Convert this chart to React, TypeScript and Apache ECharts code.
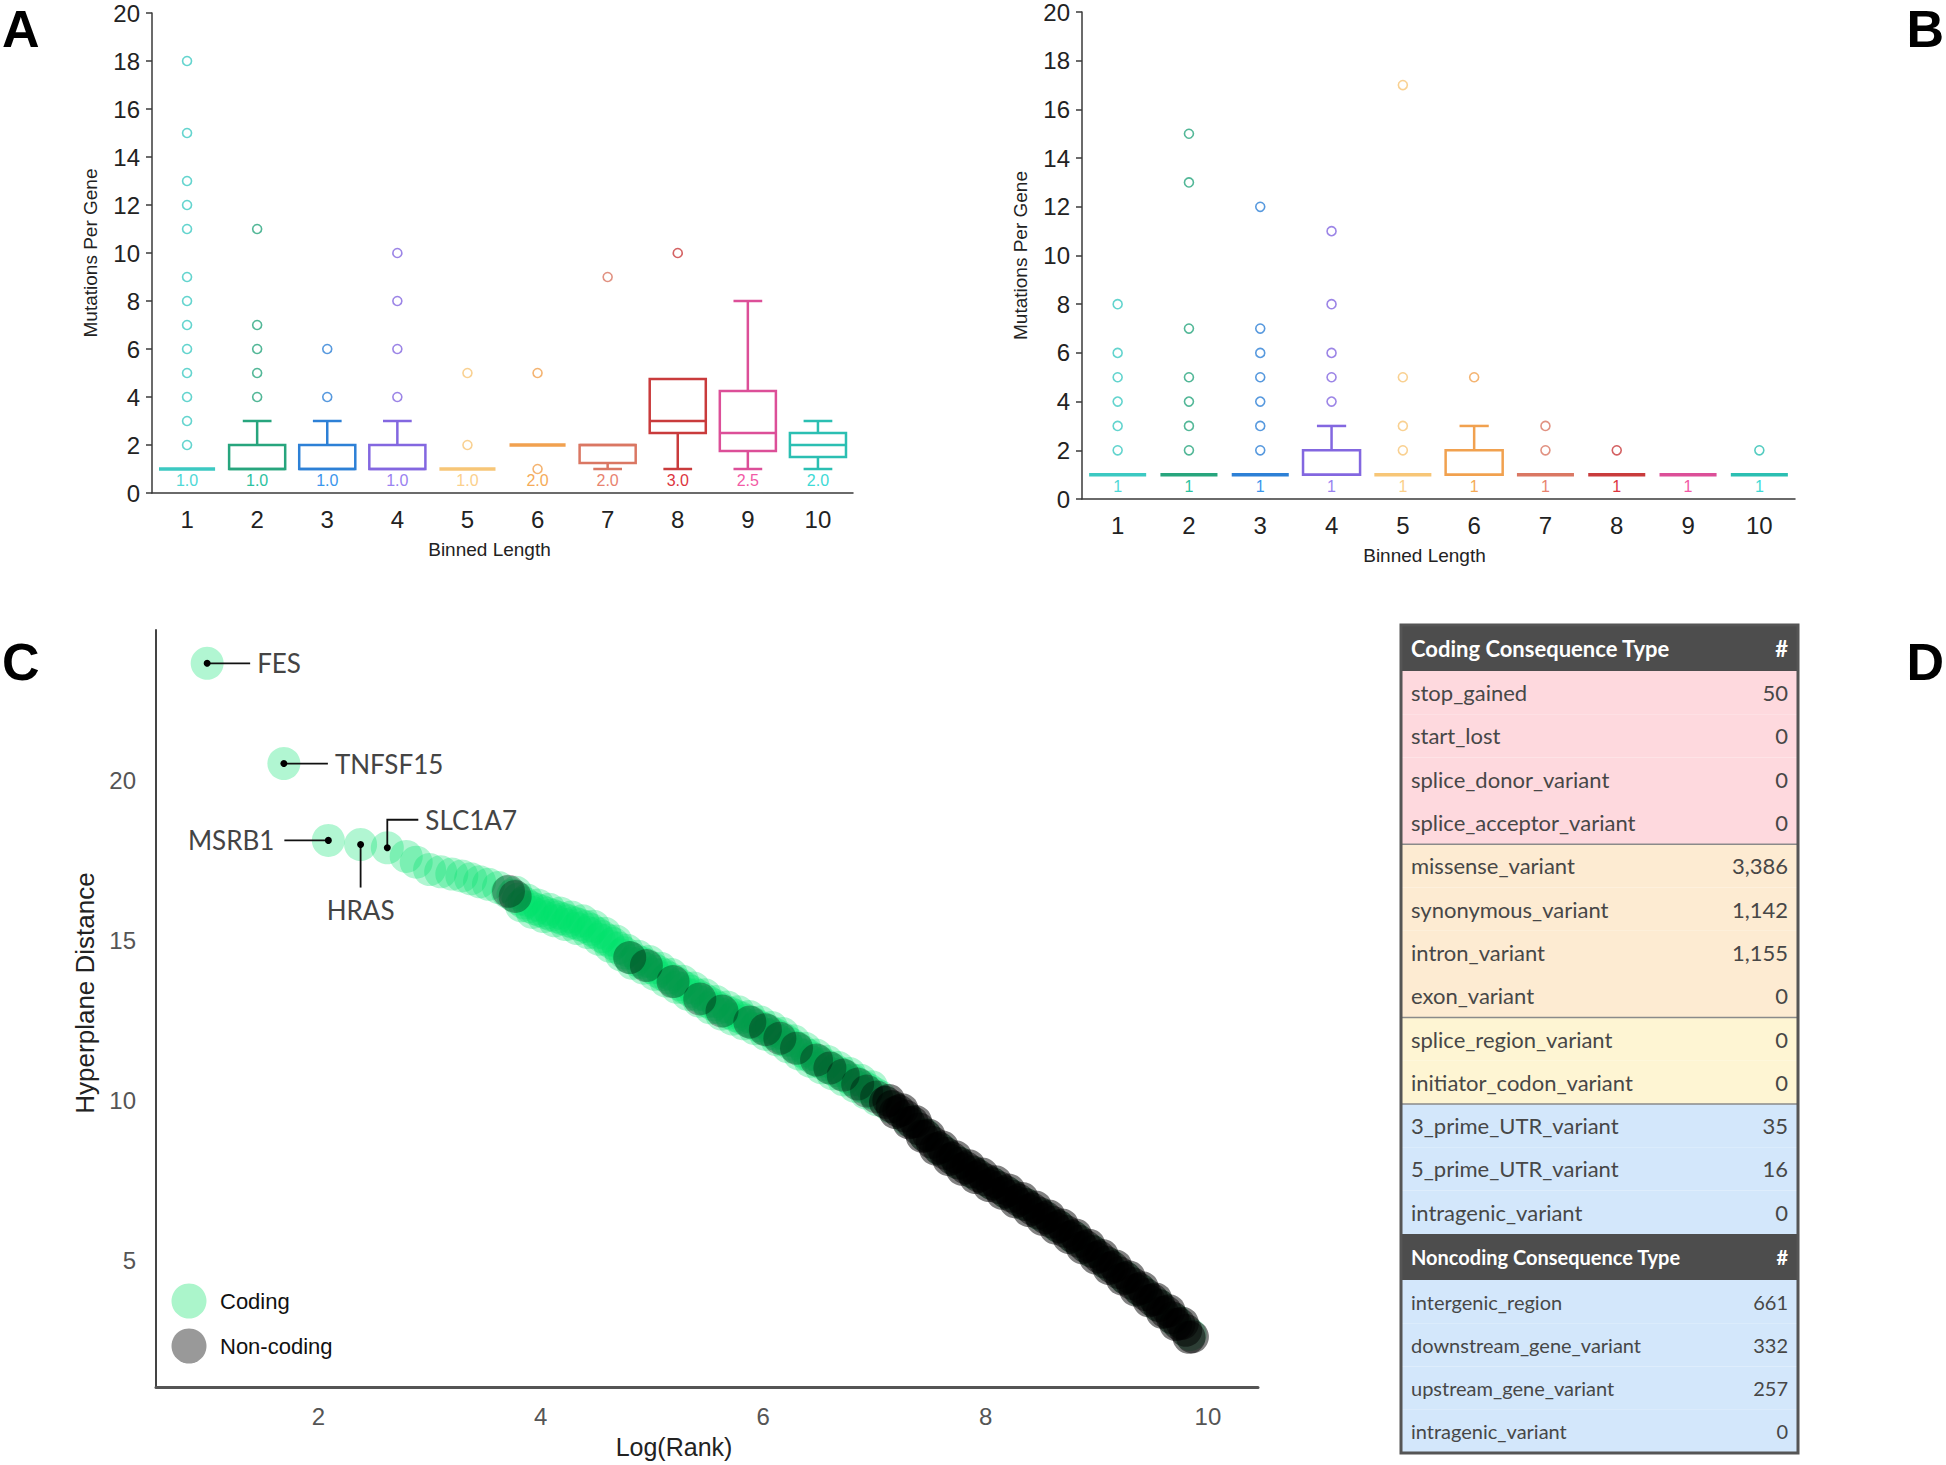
import React, { useEffect, useRef } from "react";
import * as echarts from "echarts";

// ---------- Panel A / B data ----------
const binCategories = ["1", "2", "3", "4", "5", "6", "7", "8", "9", "10"];
const boxColors = ["#3cc9c2", "#27a57d", "#2d80d6", "#8367e0", "#f7c677", "#f1a14f", "#da7763", "#c93b3c", "#dc4f98", "#2bbfb2"];
const medianLabelColors = ["#4fd8d6", "#2cc2a0", "#3b96ec", "#9a82f0", "#fbd08c", "#f5ab58", "#e8836f", "#dc3540", "#f25aa6", "#3edad6"];

const aMin = [1, 1, 1, 1, 1, 2, 1, 1, 1, 1];
const aQ1 = [1, 1, 1, 1, 1, 2, 1.25, 2.5, 1.75, 1.5];
const aMedian = [1, 1, 1, 1, 1, 2, 2, 3, 2.5, 2];
const aQ3 = [1, 2, 2, 2, 1, 2, 2, 4.75, 4.25, 2.5];
const aMax = [1, 3, 3, 3, 1, 2, 2, 4.75, 8, 3];
const aMedianLabels = ["1.0", "1.0", "1.0", "1.0", "1.0", "2.0", "2.0", "3.0", "2.5", "2.0"];
const aOutliers = [
  [2, 3, 4, 5, 6, 7, 8, 9, 11, 12, 13, 15, 18],
  [4, 5, 6, 7, 11],
  [4, 6],
  [4, 6, 8, 10],
  [2, 5],
  [1, 5],
  [9],
  [10],
  [],
  [],
];

const bMin = [1, 1, 1, 1, 1, 1, 1, 1, 1, 1];
const bQ1 = [1, 1, 1, 1, 1, 1, 1, 1, 1, 1];
const bMedian = [1, 1, 1, 1, 1, 1, 1, 1, 1, 1];
const bQ3 = [1, 1, 1, 2, 1, 2, 1, 1, 1, 1];
const bMax = [1, 1, 1, 3, 1, 3, 1, 1, 1, 1];
const bMedianLabels = ["1", "1", "1", "1", "1", "1", "1", "1", "1", "1"];
const bOutliers = [
  [2, 3, 4, 5, 6, 8],
  [2, 3, 4, 5, 7, 13, 15],
  [2, 3, 4, 5, 6, 7, 12],
  [4, 5, 6, 8, 11],
  [2, 3, 5, 17],
  [5],
  [2, 3],
  [2],
  [],
  [2],
];

// ---------- Panel C data ----------
const geneNames = ["FES", "TNFSF15", "MSRB1", "HRAS", "SLC1A7"];
const geneX = [1.0, 1.69, 2.09, 2.38, 2.62];
const geneY = [23.66, 20.53, 18.13, 18.0, 17.9];

const codingPoints = [
  [1.0, 23.66], [1.69, 20.53], [2.09, 18.13], [2.38, 18.0], [2.62, 17.9],
  [2.79, 17.63], [2.88, 17.45], [3.0, 17.22], [3.1, 17.15], [3.2, 17.08], [3.29, 17.02], [3.37, 16.93],
  [3.45, 16.84], [3.53, 16.76], [3.62, 16.66], [3.7, 16.52],
  [3.75, 16.42], [3.8, 16.3], [3.85, 16.18], [3.9, 16.06], [3.95, 15.99], [4.0, 15.93], [4.05, 15.86],
  [4.1, 15.8], [4.15, 15.74], [4.2, 15.68], [4.25, 15.62], [4.3, 15.56], [4.35, 15.5], [4.4, 15.44],
  [4.45, 15.35], [4.5, 15.24], [4.55, 15.13], [4.6, 15.02], [4.65, 14.91], [4.7, 14.77], [4.75, 14.62],
  [4.8, 14.47], [4.85, 14.4], [4.9, 14.32], [4.95, 14.25], [5.0, 14.15], [5.05, 14.04], [5.1, 13.94],
  [5.15, 13.84], [5.2, 13.74], [5.25, 13.63], [5.3, 13.52], [5.35, 13.42], [5.4, 13.31], [5.45, 13.21],
  [5.5, 13.1], [5.55, 13.0], [5.6, 12.9], [5.65, 12.81], [5.7, 12.74], [5.75, 12.66], [5.8, 12.59],
  [5.85, 12.51], [5.9, 12.44], [5.95, 12.35], [6.0, 12.26], [6.05, 12.18], [6.1, 12.09], [6.15, 12.0],
  [6.2, 11.89], [6.25, 11.77], [6.3, 11.66], [6.35, 11.55], [6.4, 11.43], [6.45, 11.32], [6.5, 11.23],
  [6.55, 11.13], [6.6, 11.03], [6.65, 10.94], [6.7, 10.84], [6.75, 10.75], [6.8, 10.65], [6.85, 10.54],
  [6.9, 10.44], [6.95, 10.34], [7.0, 10.23], [7.05, 10.13],
  [7.15, 9.8], [7.3, 9.4], [7.45, 8.95], [7.6, 8.47], [7.75, 8.08], [7.9, 7.74], [8.05, 7.43],
  [8.2, 7.11], [8.35, 6.78], [8.5, 6.44], [8.65, 6.09], [8.8, 5.72], [8.95, 5.32], [9.1, 4.91],
  [9.25, 4.49], [9.4, 4.06], [9.55, 3.63], [9.7, 3.16], [9.84, 2.7],
];

// coding genes lying slightly above / below the main ridge of the band
const codingSpreadPoints = [
  [3.775, 16.51], [3.825, 16.09], [3.875, 16.27], [3.925, 15.88], [3.975, 16.11], [4.025, 15.75],
  [4.075, 15.98], [4.125, 15.62], [4.175, 15.86], [4.225, 15.5], [4.275, 15.74], [4.325, 15.38],
  [4.375, 15.62], [4.425, 15.25], [4.475, 15.45], [4.525, 15.04], [4.575, 15.23], [4.625, 14.82],
  [4.675, 14.99], [4.725, 14.55], [4.775, 14.7], [4.825, 14.29], [4.875, 14.51], [4.925, 14.14],
  [4.975, 14.35], [5.025, 13.95], [5.075, 14.14], [5.125, 13.74], [5.175, 13.94], [5.225, 13.54],
  [5.275, 13.73], [5.325, 13.32], [5.375, 13.52], [5.425, 13.11], [5.475, 13.31], [5.525, 12.9],
  [5.575, 13.1], [5.625, 12.71], [5.675, 12.93], [5.725, 12.55], [5.775, 12.78], [5.825, 12.4],
  [5.875, 12.63], [5.925, 12.25], [5.975, 12.46], [6.025, 12.07], [6.075, 12.29], [6.125, 11.9],
  [6.175, 12.1], [6.225, 11.68], [6.275, 11.87], [6.325, 11.46], [6.375, 11.64], [6.425, 11.23],
  [6.475, 11.43], [6.525, 11.03], [6.575, 11.23], [6.625, 10.84], [6.675, 11.04], [6.725, 10.65],
  [6.775, 10.85], [6.825, 10.45], [6.875, 10.64], [6.925, 10.24], [6.975, 10.44], [7.025, 10.03],
];

// isolated non-coding genes along the green part of the band
const noncodingSparsePoints = [
  [3.71, 16.54], [3.77, 16.38],
  [4.8, 14.47], [4.95, 14.22], [5.19, 13.72], [5.43, 13.18], [5.63, 12.8], [5.88, 12.46], [6.02, 12.22],
  [6.15, 11.95], [6.3, 11.64], [6.48, 11.27], [6.6, 11.02], [6.72, 10.8], [6.85, 10.52], [6.93, 10.3],
  [7.02, 10.12],
];

// densely packed non-coding genes in the low-distance tail
const noncodingTailPoints = [
  [7.1, 9.95], [7.16, 9.82], [7.22, 9.68], [7.28, 9.52], [7.34, 9.33], [7.4, 9.12], [7.46, 8.9],
  [7.52, 8.7], [7.58, 8.52], [7.64, 8.36], [7.7, 8.2], [7.76, 8.05], [7.82, 7.91], [7.88, 7.78],
  [7.94, 7.65], [8.0, 7.53], [8.06, 7.41], [8.12, 7.29], [8.18, 7.16], [8.24, 7.02], [8.3, 6.89],
  [8.36, 6.76], [8.42, 6.62], [8.48, 6.49], [8.54, 6.35], [8.6, 6.21], [8.66, 6.07], [8.72, 5.92],
  [8.78, 5.77], [8.84, 5.61], [8.9, 5.45], [8.96, 5.29], [9.02, 5.13], [9.08, 4.96], [9.14, 4.8],
  [9.2, 4.63], [9.26, 4.46], [9.32, 4.29], [9.38, 4.12], [9.44, 3.95], [9.5, 3.78], [9.56, 3.6],
  [9.62, 3.41], [9.68, 3.22], [9.74, 3.03], [9.8, 2.83], [9.86, 2.63],
  [7.13, 10.01], [7.19, 9.63], [7.25, 9.72], [7.31, 9.31], [7.37, 9.35], [7.43, 8.89], [7.49, 8.92],
  [7.55, 8.49], [7.61, 8.56], [7.67, 8.16], [7.73, 8.25], [7.79, 7.86], [7.85, 7.97], [7.91, 7.6],
  [7.97, 7.71], [8.03, 7.35], [8.09, 7.47], [8.15, 7.11], [8.21, 7.21], [8.27, 6.84], [8.33, 6.95],
  [8.39, 6.57], [8.45, 6.68], [8.51, 6.3], [8.57, 6.4], [8.63, 6.02], [8.69, 6.12], [8.75, 5.73],
  [8.81, 5.81], [8.87, 5.41], [8.93, 5.49], [8.99, 5.09], [9.05, 5.17], [9.11, 4.76], [9.17, 4.84],
  [9.23, 4.43], [9.29, 4.5], [9.35, 4.09], [9.41, 4.16], [9.47, 3.75], [9.53, 3.81], [9.59, 3.39],
  [9.65, 3.44], [9.71, 3.01], [9.77, 3.05], [9.83, 2.61],
];

const cXTicks = [2, 4, 6, 8, 10];
const cYTicks = [5, 10, 15, 20];

// ---------- Panel D data ----------
const codingTypes = [
  "stop_gained", "start_lost", "splice_donor_variant", "splice_acceptor_variant",
  "missense_variant", "synonymous_variant", "intron_variant", "exon_variant",
  "splice_region_variant", "initiator_codon_variant",
  "3_prime_UTR_variant", "5_prime_UTR_variant", "intragenic_variant",
];
const codingCounts = [50, 0, 0, 0, 3386, 1142, 1155, 0, 0, 0, 35, 16, 0];
const codingGroups = [0, 0, 0, 0, 1, 1, 1, 1, 2, 2, 3, 3, 3];
const noncodingTypes = ["intergenic_region", "downstream_gene_variant", "upstream_gene_variant", "intragenic_variant"];
const noncodingCounts = [661, 332, 257, 0];

const groupColors = ["#fed9de", "#fdebd2", "#fef5d3", "#d3e7fb"];

const SANS = '"Liberation Sans", Arial, Helvetica, sans-serif';
const LATO = 'Lato, "Noto Sans", sans-serif';

function boxRenderer(labels: string[]) {
  return (params: any, api: any) => {
    const i = api.value(0) as number;
    const vmin = api.value(1) as number;
    const q1 = api.value(2) as number;
    const med = api.value(3) as number;
    const q3 = api.value(4) as number;
    const vmax = api.value(5) as number;
    const band = api.size([1, 0])[0];
    const cx = api.coord([i, med])[0];
    const Y = (v: number) => api.coord([i, v])[1];
    const bw = band * 0.8;
    const cw = band * 0.41;
    const c = boxColors[i];
    const children: any[] = [];
    if (q3 > q1) {
      children.push({
        type: "rect",
        shape: { x: cx - bw / 2, y: Y(q3), width: bw, height: Y(q1) - Y(q3) },
        style: { fill: "none", stroke: c, lineWidth: 2.5 },
      });
      children.push({
        type: "line",
        shape: { x1: cx - bw / 2, y1: Y(med), x2: cx + bw / 2, y2: Y(med) },
        style: { stroke: c, lineWidth: 2.5 },
      });
    } else {
      children.push({
        type: "line",
        shape: { x1: cx - bw / 2, y1: Y(med), x2: cx + bw / 2, y2: Y(med) },
        style: { stroke: c, lineWidth: 3.5 },
      });
    }
    if (vmax > q3) {
      children.push({ type: "line", shape: { x1: cx, y1: Y(q3), x2: cx, y2: Y(vmax) }, style: { stroke: c, lineWidth: 2.5 } });
      children.push({ type: "line", shape: { x1: cx - cw / 2, y1: Y(vmax), x2: cx + cw / 2, y2: Y(vmax) }, style: { stroke: c, lineWidth: 2.5 } });
    }
    if (vmin < q1) {
      children.push({ type: "line", shape: { x1: cx, y1: Y(q1), x2: cx, y2: Y(vmin) }, style: { stroke: c, lineWidth: 2.5 } });
      children.push({ type: "line", shape: { x1: cx - cw / 2, y1: Y(vmin), x2: cx + cw / 2, y2: Y(vmin) }, style: { stroke: c, lineWidth: 2.5 } });
    }
    children.push({
      type: "text",
      style: {
        text: labels[i],
        x: cx,
        y: Y(0.52),
        align: "center",
        verticalAlign: "middle",
        fill: medianLabelColors[i],
        fontSize: 16,
        fontFamily: SANS,
      },
    });
    return { type: "group", children };
  };
}

const calloutLayout: any[] = [
  { kind: "right", len: 43, gap: 7 },
  { kind: "right", len: 44, gap: 7 },
  { kind: "left", len: 44, gap: 10 },
  { kind: "down", len: 43, gap: 9 },
  { kind: "elbow", up: 28, len: 31, gap: 7 },
];

function calloutRenderer(params: any, api: any) {
  const i = params.dataIndex;
  const p = api.coord([api.value(0), api.value(1)]);
  const px = p[0];
  const py = p[1];
  const lay = calloutLayout[i];
  const lineStyle = { stroke: "#111", lineWidth: 1.8 };
  const textStyle = { fill: "#444", fontSize: 26, fontFamily: LATO };
  const children: any[] = [];
  if (lay.kind === "right") {
    children.push({ type: "line", shape: { x1: px, y1: py, x2: px + lay.len, y2: py }, style: lineStyle });
    children.push({ type: "text", style: { ...textStyle, text: geneNames[i], x: px + lay.len + lay.gap, y: py, align: "left", verticalAlign: "middle" } });
  } else if (lay.kind === "left") {
    children.push({ type: "line", shape: { x1: px, y1: py, x2: px - lay.len, y2: py }, style: lineStyle });
    children.push({ type: "text", style: { ...textStyle, text: geneNames[i], x: px - lay.len - lay.gap, y: py, align: "right", verticalAlign: "middle" } });
  } else if (lay.kind === "down") {
    children.push({ type: "line", shape: { x1: px, y1: py, x2: px, y2: py + lay.len }, style: lineStyle });
    children.push({ type: "text", style: { ...textStyle, text: geneNames[i], x: px, y: py + lay.len + lay.gap, align: "center", verticalAlign: "top" } });
  } else {
    children.push({ type: "polyline", shape: { points: [[px, py], [px, py - lay.up], [px + lay.len, py - lay.up]] }, style: { ...lineStyle, fill: "none" } });
    children.push({ type: "text", style: { ...textStyle, text: geneNames[i], x: px + lay.len + lay.gap, y: py - lay.up, align: "left", verticalAlign: "middle" } });
  }
  children.push({ type: "circle", shape: { cx: px, cy: py, r: 3.5 }, style: { fill: "#000" } });
  return { type: "group", children };
}

function buildTable() {
  const tableX = 1401;
  const tableW = 397;
  const top = 625;
  const headerH = 46;
  const rowH = 43.3;
  const textLeft = 1411;
  const textRight = 1788;
  const els: any[] = [];
  let y = top;
  const header = (label: string, size: number) => {
    els.push({ type: "rect", shape: { x: tableX, y, width: tableW, height: headerH }, style: { fill: "#4d4d4d" } });
    els.push({ type: "text", x: textLeft, y: y + headerH / 2, style: { text: label, fill: "#fff", fontSize: size, fontWeight: "bold", fontFamily: LATO, align: "left", verticalAlign: "middle" } });
    els.push({ type: "text", x: textRight, y: y + headerH / 2, style: { text: "#", fill: "#fff", fontSize: size, fontWeight: "bold", fontFamily: LATO, align: "right", verticalAlign: "middle" } });
    y += headerH;
  };
  const row = (label: string, count: number, color: string, size: number) => {
    els.push({ type: "rect", shape: { x: tableX, y, width: tableW, height: rowH }, style: { fill: color } });
    els.push({ type: "text", x: textLeft, y: y + rowH / 2, style: { text: label, fill: "#474747", fontSize: size, fontFamily: LATO, align: "left", verticalAlign: "middle" } });
    els.push({ type: "text", x: textRight, y: y + rowH / 2, style: { text: count.toLocaleString("en-US"), fill: "#474747", fontSize: size, fontFamily: LATO, align: "right", verticalAlign: "middle" } });
    y += rowH;
  };
  header("Coding Consequence Type", 22);
  const seps: number[] = [];
  codingTypes.forEach((t, i) => {
    if (i > 0 && codingGroups[i] !== codingGroups[i - 1]) seps.push(y);
    row(t, codingCounts[i], groupColors[codingGroups[i]], 22);
  });
  header("Noncoding Consequence Type", 20);
  noncodingTypes.forEach((t, i) => row(t, noncodingCounts[i], groupColors[3], 20));
  seps.forEach((sy) => {
    els.push({ type: "line", shape: { x1: tableX, y1: sy, x2: tableX + tableW, y2: sy }, style: { stroke: "#8a8a8a", lineWidth: 1.5 } });
  });
  els.push({ type: "rect", shape: { x: tableX, y: top, width: tableW, height: y - top }, style: { fill: "none", stroke: "#555", lineWidth: 3 } });
  return els;
}

function boxAxes(gridIndex: number, nameShift: number) {
  const axisColor = "#3a3a3a";
  const x = {
    gridIndex,
    type: "category",
    data: binCategories,
    boundaryGap: true,
    axisLine: { lineStyle: { color: axisColor, width: 1.5 } },
    axisTick: { alignWithLabel: true, length: 6, lineStyle: { color: axisColor, width: 1.5 } },
    axisLabel: { fontSize: 24, color: "#222", margin: 14, fontFamily: SANS },
    splitLine: { show: false },
    name: "Binned Length",
    nameLocation: "middle",
    nameGap: 47,
    nameTextStyle: { fontSize: 19, color: "#222", fontFamily: SANS, padding: [0, nameShift, 0, 0] },
  };
  const y = {
    gridIndex,
    type: "value",
    min: 0,
    max: 20,
    interval: 2,
    axisLine: { show: true, lineStyle: { color: axisColor, width: 1.5 } },
    axisTick: { show: true, length: 6, lineStyle: { color: axisColor, width: 1.5 } },
    axisLabel: { fontSize: 24, color: "#222", margin: 12, fontFamily: SANS, lineHeight: 20 },
    splitLine: { show: false },
    name: "Mutations Per Gene",
    nameLocation: "middle",
    nameGap: 52,
    nameTextStyle: { fontSize: 19, color: "#222", fontFamily: SANS },
  };
  return { x, y };
}

function outlierData(outliers: number[][]) {
  const out: any[] = [];
  outliers.forEach((arr, i) => {
    arr.forEach((v) => out.push({ value: [i, v], itemStyle: { color: "rgba(255,255,255,0)", borderColor: boxColors[i], borderWidth: 1.6 } }));
  });
  return out;
}

export default function App() {
  const ref = useRef<HTMLDivElement>(null);
  useEffect(() => {
    document.body.style.margin = "0";
    if (!ref.current) return;
    const chart = echarts.init(ref.current, undefined, { renderer: "svg" });
    const axA = boxAxes(0, 26);
    const axB = boxAxes(1, 28);
    const option: any = {
      animation: false,
      backgroundColor: "#ffffff",
      grid: [
        { left: 152, top: 13, width: 701, height: 480, outerBoundsMode: "none" },
        { left: 1082, top: 12, width: 713, height: 487, outerBoundsMode: "none" },
        { left: 156, top: 630, width: 1102, height: 757, outerBoundsMode: "none" },
      ],
      xAxis: [
        axA.x,
        axB.x,
        {
          gridIndex: 2,
          type: "value",
          min: 0.54,
          max: 10.45,
          axisLine: { show: true, lineStyle: { color: "#555", width: 3 } },
          axisTick: { show: false },
          splitLine: { show: false },
          axisLabel: { customValues: cXTicks, fontSize: 24, color: "#555", margin: 17, fontFamily: SANS },
        },
      ],
      yAxis: [
        axA.y,
        axB.y,
        {
          gridIndex: 2,
          type: "value",
          min: 1.06,
          max: 24.7,
          axisLine: { show: true, lineStyle: { color: "#444", width: 2 } },
          axisTick: { show: false },
          splitLine: { show: false },
          axisLabel: { customValues: cYTicks, fontSize: 24, color: "#555", margin: 20, fontFamily: SANS },
        },
      ],
      series: [
        {
          type: "custom",
          xAxisIndex: 0,
          yAxisIndex: 0,
          renderItem: boxRenderer(aMedianLabels),
          encode: { x: 0, y: [1, 2, 3, 4, 5] },
          data: binCategories.map((_, i) => [i, aMin[i], aQ1[i], aMedian[i], aQ3[i], aMax[i]]),
        },
        {
          type: "scatter",
          xAxisIndex: 0,
          yAxisIndex: 0,
          symbol: "circle",
          symbolSize: 9,
          data: outlierData(aOutliers),
        },
        {
          type: "custom",
          xAxisIndex: 1,
          yAxisIndex: 1,
          renderItem: boxRenderer(bMedianLabels),
          encode: { x: 0, y: [1, 2, 3, 4, 5] },
          data: binCategories.map((_, i) => [i, bMin[i], bQ1[i], bMedian[i], bQ3[i], bMax[i]]),
        },
        {
          type: "scatter",
          xAxisIndex: 1,
          yAxisIndex: 1,
          symbol: "circle",
          symbolSize: 9,
          data: outlierData(bOutliers),
        },
        {
          name: "Coding",
          type: "scatter",
          xAxisIndex: 2,
          yAxisIndex: 2,
          symbol: "circle",
          symbolSize: 33,
          itemStyle: { color: "rgba(0, 226, 108, 0.38)" },
          data: codingPoints.concat(codingSpreadPoints),
        },
        {
          name: "Non-coding",
          type: "scatter",
          xAxisIndex: 2,
          yAxisIndex: 2,
          symbol: "circle",
          symbolSize: 33,
          itemStyle: { color: "rgba(0, 0, 0, 0.38)" },
          data: noncodingSparsePoints,
        },
        {
          name: "Non-coding",
          type: "scatter",
          xAxisIndex: 2,
          yAxisIndex: 2,
          symbol: "circle",
          symbolSize: 33,
          itemStyle: { color: "rgba(0, 0, 0, 0.62)" },
          data: noncodingTailPoints,
        },
        {
          type: "custom",
          xAxisIndex: 2,
          yAxisIndex: 2,
          z: 10,
          renderItem: calloutRenderer,
          encode: { x: 0, y: 1 },
          data: geneX.map((x, i) => [x, geneY[i]]),
        },
      ],
      graphic: [
        { type: "text", x: 2, y: 29, style: { text: "A", fontSize: 52, fontWeight: "bold", fontFamily: SANS, fill: "#000", align: "left", verticalAlign: "middle" } },
        { type: "text", x: 1944, y: 29, style: { text: "B", fontSize: 52, fontWeight: "bold", fontFamily: SANS, fill: "#000", align: "right", verticalAlign: "middle" } },
        { type: "text", x: 2, y: 662, style: { text: "C", fontSize: 52, fontWeight: "bold", fontFamily: SANS, fill: "#000", align: "left", verticalAlign: "middle" } },
        { type: "text", x: 1944, y: 662, style: { text: "D", fontSize: 52, fontWeight: "bold", fontFamily: SANS, fill: "#000", align: "right", verticalAlign: "middle" } },
        { type: "text", x: 85, y: 993, rotation: Math.PI / 2, style: { text: "Hyperplane Distance", fontSize: 26, fontFamily: SANS, fill: "#222", align: "center", verticalAlign: "middle" } },
        { type: "text", x: 674, y: 1447, style: { text: "Log(Rank)", fontSize: 25, fontFamily: SANS, fill: "#222", align: "center", verticalAlign: "middle" } },
        { type: "circle", shape: { cx: 189, cy: 1301, r: 17.5 }, style: { fill: "#abf5cb" } },
        { type: "circle", shape: { cx: 189, cy: 1346, r: 17.5 }, style: { fill: "#999999" } },
        { type: "text", x: 220, y: 1301, style: { text: "Coding", fontSize: 22, fontFamily: SANS, fill: "#111", align: "left", verticalAlign: "middle" } },
        { type: "text", x: 220, y: 1346, style: { text: "Non-coding", fontSize: 22, fontFamily: SANS, fill: "#111", align: "left", verticalAlign: "middle" } },
        ...buildTable(),
      ],
    };
    chart.setOption(option);
    return () => chart.dispose();
  }, []);
  return <div ref={ref} style={{ width: 1946, height: 1465 }} />;
}
